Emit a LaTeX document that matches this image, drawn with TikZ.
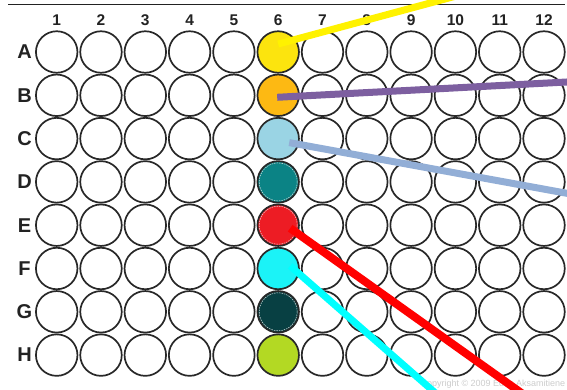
\documentclass[tikz,border=0pt]{standalone}
\usepackage{fontspec}
\setmainfont{Liberation Sans}
\usepackage{xcolor}
\usepackage{tikz}
\usetikzlibrary{positioning}
\definecolor{wellrim}{RGB}{40,40,40}
\definecolor{labelgray}{RGB}{34,34,34}
\definecolor{dyeyellow}{RGB}{252,228,14}
\definecolor{dyeorange}{RGB}{253,185,19}
\definecolor{dyesky}{RGB}{154,212,228}
\definecolor{dyeteal}{RGB}{11,131,133}
\definecolor{dyered}{RGB}{237,28,36}
\definecolor{dyecyan}{RGB}{27,243,247}
\definecolor{dyenight}{RGB}{8,64,67}
\definecolor{dyelime}{RGB}{179,217,35}
\definecolor{traceyellow}{RGB}{255,242,0}
\definecolor{tracepurple}{RGB}{125,95,160}
\definecolor{tracesteel}{RGB}{146,174,214}
\definecolor{tracered}{RGB}{255,0,0}
\definecolor{tracecyan}{RGB}{0,255,255}

\begin{document}
\begin{tikzpicture}[
  x=1pt, y=-1pt,
  well/.style={circle, draw=wellrim, line width=1.7pt, minimum size=41.5pt,
               inner sep=0pt},
  collabel/.style={font=\fontsize{15.5}{15.5}\selectfont\bfseries, text=labelgray},
  rowlabel/.style={font=\fontsize{20}{20}\selectfont\bfseries, text=labelgray},
  tracer/.style={line width=7pt},
  innerring/.style={draw=white!75!gray, line width=0.5pt,
                    dash pattern=on 1.5pt off 1pt},
  dyeA6/.style={fill=dyeyellow},
  dyeB6/.style={fill=dyeorange},
  dyeC6/.style={fill=dyesky},
  dyeD6/.style={fill=dyeteal},
  dyeE6/.style={fill=dyered},
  dyeF6/.style={fill=dyecyan},
  dyeG6/.style={fill=dyenight},
  dyeH6/.style={fill=dyelime},
]
\useasboundingbox (0,0) rectangle (567,390);
\clip (0,0) rectangle (567,390);

% plate header rule
\draw[labelgray, line width=1.6pt] (8,4.7) -- (565,4.7);

% column numbers
\foreach \c in {1,...,12}
  \node[collabel] (col\c) at ({12.4+44.3*\c}, 20.5) {\c};

% rows of wells
\foreach \r [count=\i from 0] in {A,B,C,D,E,F,G,H} {
  \node[rowlabel] (row\r) at (24.5, {52+43.3*\i}) {\r};
  \foreach \c in {1,...,12}
    \node[well, dye\r\c/.try] (w\r\c) at ({12.4+44.3*\c}, {52+43.3*\i}) {};
}
\foreach \r in {D,E,G}
  \draw[innerring] (w\r6.center) circle (19pt);

\node[anchor=base west, font=\fontsize{9}{9}\selectfont, text=gray!40]
  (credit) at (417,386) {Copyright © 2009 Edita Aksamitiene};

% tracer lines leaving the plate
\coordinate (outA) at (471,-8);
\coordinate (outB) at (580,81.3);
\coordinate (outC) at (580,195.7);
\coordinate (outE) at (527,397);
\coordinate (outF) at (440,397);
\draw[tracer, traceyellow] ([yshift=8pt]wA6.center) -- (outA);
\draw[tracer, tracepurple] ([xshift=-1pt, yshift=-2pt]wB6.center) -- (outB);
\draw[tracer, tracesteel] ([xshift=11pt, yshift=-4pt]wC6.center) -- (outC);
\draw[tracer, tracered, line width=8pt] ([xshift=12pt, yshift=-3pt]wE6.center) -- (outE);
\draw[tracer, tracecyan] ([xshift=12pt, yshift=2.6pt]wF6.center) -- (outF);
\end{tikzpicture}
\end{document}
